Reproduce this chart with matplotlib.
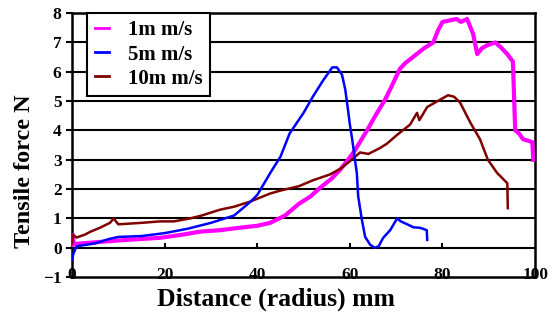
import matplotlib
matplotlib.use("Agg")
import matplotlib.pyplot as plt

plt.rcParams['font.family'] = 'Liberation Serif'
plt.rcParams['font.weight'] = 'bold'

# 1 mm/s
m_x = [0, 0.2, 0.4, 2, 6, 10, 15, 19, 24, 27.6, 32, 36, 40, 42.8, 46, 49, 51.5, 53.6, 56, 57.9,
       59.6, 61, 63.7, 65.5, 67.6, 69, 70.8, 72, 73.6, 76, 78, 79, 80, 81.5, 83, 84, 85.3, 86.6,
       87.5, 88.5, 89.6, 91.4, 92.5, 94, 95.2, 95.7, 96.5, 97.4, 98.5, 99.4, 99.6]
m_y = [0.1, 0.44, 0.12, 0.15, 0.2, 0.25, 0.3, 0.34, 0.45, 0.55, 0.6, 0.68, 0.75, 0.85, 1.1, 1.5,
       1.75, 2.05, 2.35, 2.66, 3.0, 3.3, 4.0, 4.5, 5.05, 5.5, 6.1, 6.3, 6.5, 6.8, 7.0, 7.4, 7.7,
       7.75, 7.8, 7.7, 7.8, 7.3, 6.6, 6.8, 6.9, 7.0, 6.85, 6.6, 6.35, 4.0, 3.9, 3.7, 3.65, 3.6, 3.0]

# 5 mm/s
b_x = [0, 0.3, 1, 3, 5, 8, 10, 15, 20, 25, 30, 35, 38.4, 40, 41.5, 43, 45, 47, 50, 52, 54.2,
       56.2, 57.2, 58.3, 59, 59.6, 60, 60.5, 61.1, 61.5, 61.8, 62.6, 63.3, 64.4, 65.4, 66.2,
       67.2, 68.7, 70.2, 71, 72.4, 73.7, 75.2, 76.6, 76.7]
b_y = [-0.4, -0.2, 0.05, 0.1, 0.15, 0.3, 0.37, 0.4, 0.5, 0.65, 0.85, 1.1, 1.55, 1.8, 2.2, 2.6,
       3.1, 3.9, 4.6, 5.15, 5.7, 6.15, 6.15, 5.9, 5.4, 4.7, 4.2, 3.7, 3.0, 2.55, 1.75, 0.95,
       0.37, 0.1, 0.0, 0.05, 0.34, 0.6, 1.0, 0.9, 0.8, 0.7, 0.68, 0.6, 0.27]

# 10 mm/s
r_x = [0, 0.2, 1, 2.8, 4, 6, 8.2, 9, 10, 15, 19, 22, 25.5, 28, 32, 35, 38.4, 42.8, 45, 49, 52,
       55.7, 58, 60, 62.2, 64, 66.5, 68, 70.2, 73, 74.5, 75, 76.7, 79.5, 81.2, 82.5, 83.8, 86,
       88.1, 89.8, 91.8, 94, 94.1]
r_y = [0.15, 0.45, 0.35, 0.45, 0.55, 0.68, 0.85, 1.0, 0.8, 0.85, 0.9, 0.9, 1.0, 1.1, 1.3, 1.4,
       1.57, 1.85, 1.95, 2.1, 2.3, 2.5, 2.7, 2.95, 3.25, 3.2, 3.4, 3.55, 3.85, 4.2, 4.6, 4.35,
       4.8, 5.05, 5.2, 5.15, 4.95, 4.27, 3.7, 3.0, 2.55, 2.2, 1.35]

labels = ['1m m/s', '5m m/s', '10m m/s']
x_ticks = [0, 20, 40, 60, 80, 100]
y_ticks = [-1, 0, 1, 2, 3, 4, 5, 6, 7, 8]

fig = plt.figure(figsize=(5.58, 3.2), dpi=100)
ax = fig.add_axes([0.129, 0.134, 0.83, 0.825])

# horizontal grid
for yv in y_ticks[1:-1]:
    ax.axhline(yv, color='black', lw=1.5, zorder=1)
# small ticks on the zero line
ax.vlines(x_ticks[1:-1], 0, 0.15, color='black', lw=1.5, zorder=1)

ax.plot(m_x, m_y, color='#FF00FF', lw=3, label=labels[0], zorder=3)
ax.plot(b_x, b_y, color='#0000FF', lw=1.8, label=labels[1], zorder=4)
ax.plot(r_x, r_y, color='#800000', lw=1.8, label=labels[2], zorder=3)

ax.set_xlim(0, 100)
ax.set_ylim(-1, 8)
ax.set_xticks(x_ticks)
ax.set_yticks(y_ticks)
for s in ax.spines.values():
    s.set_linewidth(1.8)
ax.tick_params(axis='x', length=0, pad=-7, labelsize=12.5)
ax.tick_params(axis='y', length=4, width=1.5, labelsize=12.5)

ax.set_xlabel('Distance (radius) mm', fontsize=18.5, fontweight='bold')
ax.set_ylabel('Tensile force N', fontsize=17.5, fontweight='bold')
ax.xaxis.set_label_coords(0.44, -0.04)
ax.yaxis.set_label_coords(-0.08, 0.40)

leg = ax.legend(loc='upper left', bbox_to_anchor=(0.033, 1.0), fontsize=15, handlelength=0.7,
                handletextpad=0.9, labelspacing=0.2, borderpad=0.35, fancybox=False,
                framealpha=1, edgecolor='black', borderaxespad=0)
leg.get_frame().set_linewidth(1.5)
for h in leg.get_lines():
    h.set_linewidth(2)

fig.savefig('out.png', dpi=100)
